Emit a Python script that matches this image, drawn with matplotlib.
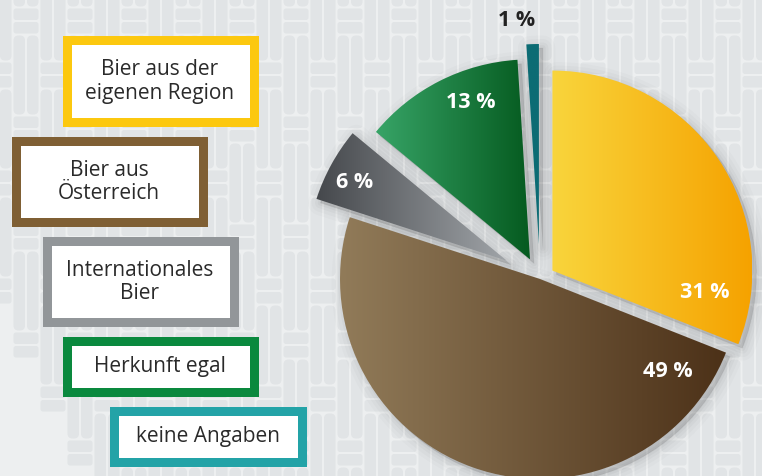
import numpy as np
import matplotlib.pyplot as plt
from matplotlib.patches import Rectangle, FancyBboxPatch, Wedge
from matplotlib.colors import LinearSegmentedColormap

plt.rcParams['font.family'] = ['Open Sans', 'DejaVu Sans']

# data
shares = [31, 49, 6, 13, 1]
pct_labels = ['31 %', '49 %', '6 %', '13 %', '1 %']
legend_labels = ['Bier aus der\neigenen Region', 'Bier aus\nÖsterreich',
                 'Internationales\nBier', 'Herkunft egal', 'keine Angaben']

# styles
grad_left = ['#f9d53c', '#917b59', '#45484c', '#37a467', '#0c6c74']
grad_right = ['#f5a200', '#4c3118', '#a0a4a8', '#055a1f', '#0c6c74']
border_cols = ['#fcc80f', '#7f5f34', '#929699', '#0a893e', '#23a3a7']
explode = [15, 0, 38, 22, 35]
label_cols = ['white', 'white', 'white', 'white', '#222222']
label_xy = [(705, 292), (668, 372), (355, 183), (471, 103), (517, 20)]
box_xy = [(62, 36, 196, 91), (11, 137, 196, 90), (42, 237, 196, 90),
          (62, 337, 196, 60), (109, 407, 197, 60)]

W, H = 762, 477
fig = plt.figure(figsize=(W / 100, H / 100), dpi=100)
ax = fig.add_axes([0, 0, 1, 1])


def Y(y):
    return H - y


# background texture
ax.add_patch(Rectangle((0, 0), W, H, facecolor='#edeff0', edgecolor='none', zorder=0))
tile = '#e1e4e6'
x0, y0 = 12.5, 8.5
for j in range(-2, 11):
    for i in range(-3, 17):
        bx = x0 + 54 * i + 27 * j
        by = y0 + 54 * j
        for dy in (1, 14.5):
            ax.add_patch(FancyBboxPatch((bx + 1, Y(by + dy + 11.5)), 25, 11.5,
                                        boxstyle='round,pad=0,rounding_size=2.5',
                                        facecolor=tile, edgecolor='none', zorder=0.5))
        for dx in (28, 41.5):
            ax.add_patch(FancyBboxPatch((bx + dx, Y(by - 26 + 79)), 11.5, 79,
                                        boxstyle='round,pad=0,rounding_size=5',
                                        facecolor=tile, edgecolor='none', zorder=0.5))

# pie
cx, cy, r = 540, Y(280), 200
wedges, _ = ax.pie(shares, center=(cx, cy), radius=r, startangle=90,
                   counterclock=False, explode=explode,
                   wedgeprops=dict(facecolor='none', edgecolor='none'))

for k, w in enumerate(wedges):
    w.set_zorder(3)
    # soft shadow
    for lw, a in [(18, 0.015), (13, 0.02), (8, 0.025), (4, 0.03), (1, 0.03)]:
        sh = Wedge((w.center[0] + 4, w.center[1] - 4), w.r, w.theta1, w.theta2,
                   facecolor=(0, 0, 0, a), edgecolor=(0, 0, 0, a), linewidth=lw,
                   joinstyle='round', zorder=2)
        ax.add_patch(sh)
    # gradient fill
    bb = w.get_path().get_extents()
    cmap = LinearSegmentedColormap.from_list('g%d' % k, [grad_left[k], grad_right[k]])
    grad = np.linspace(0, 1, 256).reshape(1, -1)
    im = ax.imshow(grad, extent=(bb.x0, bb.x1, bb.y0, bb.y1), cmap=cmap,
                   aspect='auto', interpolation='bilinear', zorder=3)
    im.set_clip_path(w)

for k, lab in enumerate(pct_labels):
    x, y = label_xy[k]
    ax.text(x, Y(y), lab, ha='center', va='center', fontsize=15.5,
            fontweight='bold', color=label_cols[k], zorder=5)

# legend boxes
bw = 9
for k, lab in enumerate(legend_labels):
    x, y, w, h = box_xy[k]
    ax.add_patch(Rectangle((x + bw / 2, Y(y + h - bw / 2)), w - bw, h - bw,
                           facecolor='white', edgecolor=border_cols[k],
                           linewidth=bw * 0.72, joinstyle='miter', zorder=4))
    ax.text(x + w / 2, Y(y + h / 2), lab, ha='center', va='center',
            fontsize=15, color='#2a2a2a', linespacing=1.15, zorder=5)

ax.set_xlim(0, W)
ax.set_ylim(0, H)
ax.set_aspect('auto')
ax.axis('off')

fig.savefig('out.png', dpi=100)
